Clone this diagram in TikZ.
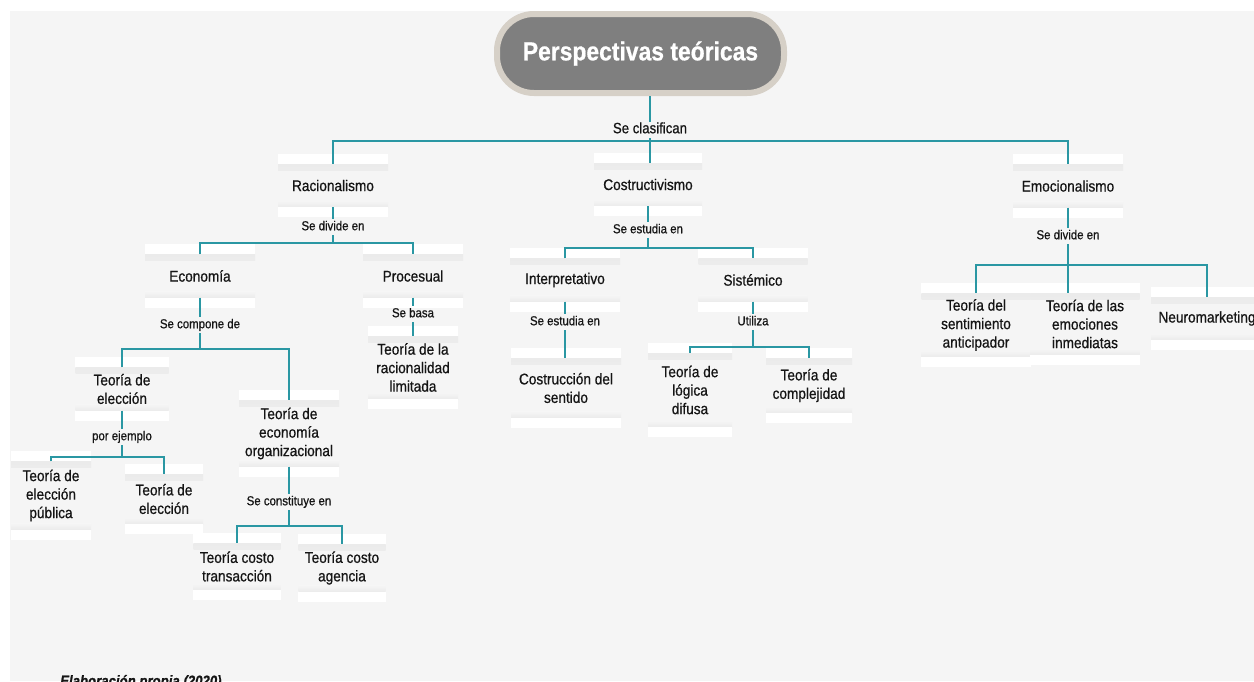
\documentclass[tikz,border=0pt]{standalone}
\usepackage{fontspec}
\setmainfont[FakeStretch=0.88,FakeBold=0.7]{Liberation Sans}
\definecolor{bg}{HTML}{F5F5F5}
\definecolor{shadowgray}{HTML}{EBEBEB}
\definecolor{linkteal}{HTML}{2A97A3}
\definecolor{ink}{HTML}{151515}
\definecolor{pillgray}{HTML}{7F7F7F}
\definecolor{pillrim}{HTML}{D6D0C7}
\begin{document}
\begin{tikzpicture}[x=1pt,y=-1pt,
  link/.style={draw=linkteal,line width=2.4pt},
  card/.style={font={\fontsize{15.5}{18.5}\selectfont},text=ink,align=center,
    minimum width=108pt,minimum height=43pt,inner xsep=0pt,inner ysep=6pt,
    fill=bg,
    path picture={
      \shade[top color=shadowgray,bottom color=bg]
        (path picture bounding box.north west) rectangle
        ([yshift=-6pt]path picture bounding box.north east);
      \shade[top color=bg,bottom color=shadowgray]
        ([yshift=6pt]path picture bounding box.south west) rectangle
        (path picture bounding box.south east);}},
  lbl/.style={font={\fontsize{13}{15}\selectfont},text=ink,fill=bg,inner sep=2pt,
    text height=9.5pt,text depth=3pt},
  bar/.style={fill=white},
  title/.style={fill=pillgray,draw=pillrim,line width=6pt,rounded corners=37pt,
    minimum width=287pt,minimum height=79pt,text=white,
    font={\fontsize{26}{30}\selectfont\bfseries}}]

% canvas
\clip (0,0) rectangle (1254,681);
\fill[white] (0,0) rectangle (1254,681);
\fill[bg] (10,11) rectangle (1254,681);

% root
\node[title] (title) at (640.5,53.5) {Perspectivas teóricas};
\node[lbl,font={\fontsize{15}{17}\selectfont}] (clas) at (650,130) {Se clasifican};
\coordinate (h1) at (650,141);

% first level
\node[card,minimum width=110pt] (rac) at (333,185.5) {Racionalismo};
\node[card] (cos) at (648,184.5) {Costructivismo};
\node[card,minimum width=110pt] (emo) at (1068,186) {Emocionalismo};

% Racionalismo branch
\node[lbl] (racl) at (333,227) {Se divide en};
\coordinate (h2) at (333,243);
\node[card,minimum width=110pt] (eco) at (200,276) {Economía};
\node[card,minimum width=100pt] (pro) at (413,276) {Procesual};
\node[lbl] (ecol) at (200,325) {Se compone de};
\coordinate (h3) at (200,349);
\node[lbl] (prol) at (413,314) {Se basa};
\node[card,minimum width=90pt,minimum height=63pt] (trl) at (413,367.5) {Teoría de la\\racionalidad\\limitada};

\node[card,minimum width=93pt] (tel) at (122,389) {Teoría de\\elección};
\node[lbl] (tell) at (122,437) {por ejemplo};
\coordinate (h4) at (122,457);
\node[card,minimum width=80pt,minimum height=68pt] (tep) at (51,495.5) {Teoría de\\elección\\pública};
\node[card,minimum width=78pt,minimum height=50pt] (te2) at (164,499) {Teoría de\\elección};

\node[card,minimum width=100pt,minimum height=66pt] (teo) at (289,433.5) {Teoría de\\economía\\organizacional};
\node[lbl] (teol) at (289,502) {Se constituye en};
\coordinate (h5) at (289,526);
\node[card,minimum width=87pt,minimum height=47pt] (tct) at (237,566.5) {Teoría costo\\transacción};
\node[card,minimum width=87pt,minimum height=47pt] (tca) at (342,568) {Teoría costo\\agencia};

% Costructivismo branch
\node[lbl] (cosl) at (648,230) {Se estudia en};
\coordinate (h6) at (648,248);
\node[card,minimum width=110pt] (int) at (565,280) {Interpretativo};
\node[card,minimum width=109pt] (sis) at (753,280) {Sistémico};
\node[lbl] (intl) at (565,322) {Se estudia en};
\node[card,minimum width=110pt,minimum height=59pt] (csd) at (566,388) {Costrucción del\\sentido};
\node[lbl] (sisl) at (753,322) {Utiliza};
\coordinate (h7) at (753,347);
\node[card,minimum width=84pt,minimum height=74pt] (ldf) at (690,390) {Teoría de\\lógica\\difusa};
\node[card,minimum width=86pt,minimum height=55pt] (cmp) at (809,385.5) {Teoría de\\complejidad};

% Emocionalismo branch
\node[lbl] (emol) at (1068,236) {Se divide en};
\coordinate (h8) at (1068,265);
\node[card,minimum width=109pt,minimum height=64pt] (ts) at (976,325) {Teoría del\\sentimiento\\anticipador};
\node[card,minimum width=109pt,minimum height=62pt] (tei) at (1085,324) {Teoría de las\\emociones\\inmediatas};
\node[card,minimum width=112pt] (neu) at (1207,318.5) {Neuromarketing};

% white rims above and below every card
\foreach \n in {rac,cos,emo,eco,pro,trl,tel,tep,te2,teo,tct,tca,int,sis,csd,ldf,cmp,ts,tei,neu}{
  \fill[bar] (\n.north west) rectangle ([yshift=10pt]\n.north east);
  \fill[bar] (\n.south west) rectangle ([yshift=-10pt]\n.south east);
}

% connectors
\draw[link] (clas.north) -- (clas.north |- title.south);
\draw[link] (clas.south) -- (h1);
\draw[link] (rac.north) |- (h1) -| (emo.north);
\draw[link] (h1) -- (h1 |- cos.north);

\draw[link] (rac.south) -- (racl.north);
\draw[link] (racl.south) -- (h2);
\draw[link] (eco.north) |- (h2) -| (pro.north);
\draw[link] (eco.south) -- (ecol.north);
\draw[link] (ecol.south) -- (h3);
\draw[link] (tel.north) |- (h3) -| (teo.north);
\draw[link] (tel.south) -- (tell.north);
\draw[link] (tell.south) -- (h4);
\draw[link] (tep.north) |- (h4) -| (te2.north);
\draw[link] (teo.south) -- (teol.north);
\draw[link] (teol.south) -- (h5);
\draw[link] (tct.north) |- (h5) -| (tca.north);
\draw[link] (pro.south) -- (prol.north);
\draw[link] (prol.south) -- (trl.north);

\draw[link] (cos.south) -- (cosl.north);
\draw[link] (cosl.south) -- (h6);
\draw[link] (int.north) |- (h6) -| (sis.north);
\draw[link] (int.south) -- (intl.north);
\draw[link] (intl.south) -- (intl.south |- csd.north);
\draw[link] (sis.south) -- (sisl.north);
\draw[link] (sisl.south) -- (h7);
\draw[link] (ldf.north) |- (h7) -| (cmp.north);

\draw[link] (emo.south) -- (emol.north);
\draw[link] (emol.south) -- (h8);
\draw[link] (ts.north) |- (h8) -| (neu.north);
\draw[link] (h8) -- (h8 |- tei.north);

% source note along the lower edge
\node[anchor=base west,inner sep=0pt,text=ink,font={\fontsize{15}{18}\selectfont\bfseries\itshape}] (src) at (60,686) {Elaboración propia (2020)};
\end{tikzpicture}
\end{document}
